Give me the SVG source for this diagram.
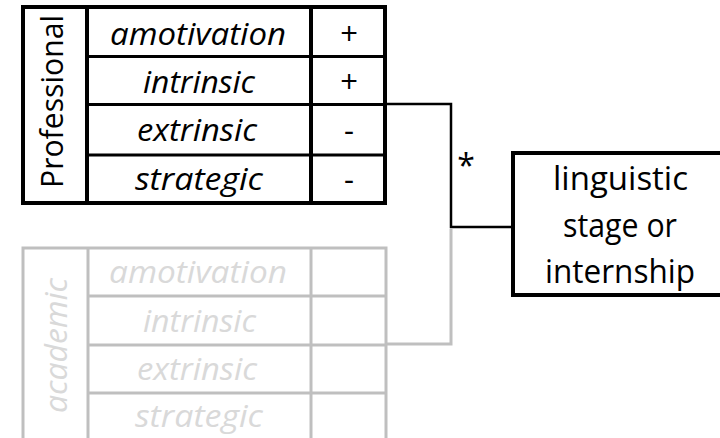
<svg xmlns="http://www.w3.org/2000/svg" width="720" height="438" viewBox="0 0 720 438">
<style>
text{font-family:"Open Sans","Liberation Sans",sans-serif;text-anchor:middle}
.it{font-style:italic;font-size:31px}
.k{fill:#000}
.g{fill:#d9d9d9}
.bl{stroke:#000;fill:none}
.gl{stroke:#bfbfbf;fill:none}
</style>
<rect width="720" height="438" fill="#fff"/>
<g id="connectors">
<polyline class="gl" stroke-width="3" points="451,229 451,344 386,344"/>
<polyline class="bl" stroke-width="2.5" points="385,104 451,104 451,227 513,227"/>
<text x="466" y="177" font-size="32" class="k" style="font-family:'Open Sans','Liberation Sans',sans-serif">*</text>
</g>
<g id="academic">
<rect class="gl" x="23" y="248" width="363" height="220" stroke-width="3"/>
<line class="gl" x1="88" y1="248" x2="88" y2="438" stroke-width="3"/>
<line class="gl" x1="311" y1="248" x2="311" y2="438" stroke-width="3"/>
<line class="gl" x1="88" y1="296" x2="386" y2="296" stroke-width="3"/>
<line class="gl" x1="88" y1="345" x2="386" y2="345" stroke-width="3"/>
<line class="gl" x1="88" y1="393" x2="386" y2="393" stroke-width="3"/>
<text class="it g" transform="translate(67,345.5) rotate(-90)" textLength="135" lengthAdjust="spacingAndGlyphs">academic</text>
<text class="it g" x="198" y="283" textLength="178" lengthAdjust="spacingAndGlyphs">amotivation</text>
<text class="it g" x="199.5" y="332" textLength="113" lengthAdjust="spacingAndGlyphs">intrinsic</text>
<text class="it g" x="197" y="380" textLength="120" lengthAdjust="spacingAndGlyphs">extrinsic</text>
<text class="it g" x="199" y="427" textLength="128" lengthAdjust="spacingAndGlyphs">strategic</text>
</g>
<g id="professional">
<rect class="bl" x="23" y="7" width="362" height="196" stroke-width="4"/>
<line class="bl" x1="87" y1="7" x2="87" y2="203" stroke-width="4"/>
<line class="bl" x1="311" y1="7" x2="311" y2="203" stroke-width="4"/>
<line class="bl" x1="87" y1="56.5" x2="385" y2="56.5" stroke-width="3"/>
<line class="bl" x1="87" y1="104.5" x2="385" y2="104.5" stroke-width="3"/>
<line class="bl" x1="87" y1="155" x2="385" y2="155" stroke-width="3"/>
<text class="k" font-size="31" transform="translate(63,101.5) rotate(-90)" textLength="173" lengthAdjust="spacingAndGlyphs">Professional</text>
<text class="it k" x="198" y="45" textLength="176" lengthAdjust="spacingAndGlyphs">amotivation</text>
<text class="it k" x="199" y="93" textLength="112" lengthAdjust="spacingAndGlyphs">intrinsic</text>
<text class="it k" x="197" y="141" textLength="120" lengthAdjust="spacingAndGlyphs">extrinsic</text>
<text class="it k" x="199" y="190" textLength="128" lengthAdjust="spacingAndGlyphs">strategic</text>
<text class="k" x="349" y="45" font-size="31">+</text>
<text class="k" x="349" y="93" font-size="31">+</text>
<text class="k" x="349" y="141" font-size="31">-</text>
<text class="k" x="349" y="190" font-size="31">-</text>
</g>
<g id="stage">
<rect class="bl" x="513" y="153" width="220" height="142" stroke-width="4"/>
<text class="k" x="620.5" y="190" font-size="33" textLength="135" lengthAdjust="spacingAndGlyphs">linguistic</text>
<text class="k" x="620" y="237" font-size="33" textLength="114" lengthAdjust="spacingAndGlyphs">stage or</text>
<text class="k" x="620" y="283" font-size="33" textLength="150" lengthAdjust="spacingAndGlyphs">internship</text>
</g>
</svg>
